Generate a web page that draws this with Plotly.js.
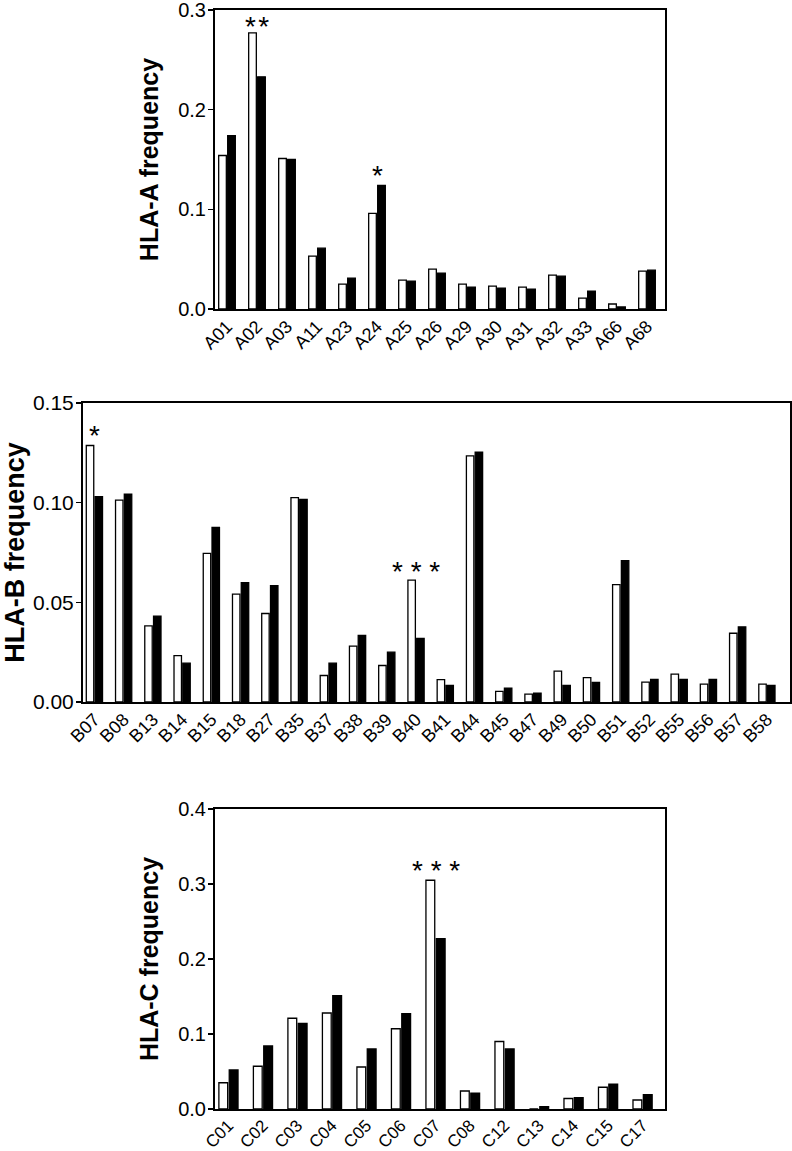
<!DOCTYPE html>
<html>
<head>
<meta charset="utf-8">
<script src="https://cdn.plot.ly/plotly-3.0.1.min.js"></script>
<style>html,body{margin:0;padding:0;background:#fff;}#chart{width:792px;height:1151px;}</style>
</head>
<body>
<div id="chart"></div>
<script>
// HLA-A
const catA = ["A01","A02","A03","A11","A23","A24","A25","A26","A29","A30","A31","A32","A33","A66","A68"];
const openA = [0.154,0.277,0.151,0.053,0.025,0.096,0.029,0.040,0.025,0.023,0.022,0.034,0.011,0.005,0.038];
const filledA = [0.174,0.233,0.150,0.061,0.031,0.124,0.028,0.036,0.022,0.021,0.020,0.033,0.018,0.002,0.039];
// HLA-B
const catB = ["B07","B08","B13","B14","B15","B18","B27","B35","B37","B38","B39","B40","B41","B44","B45","B47","B49","B50","B51","B52","B55","B56","B57","B58"];
const openB = [0.1287,0.1013,0.0382,0.0233,0.0746,0.0541,0.0444,0.1025,0.0133,0.0280,0.0183,0.0611,0.0112,0.1235,0.0053,0.0040,0.0155,0.0122,0.0589,0.0100,0.0140,0.0090,0.0345,0.0090];
const filledB = [0.1030,0.1043,0.0431,0.0195,0.0876,0.0599,0.0584,0.1016,0.0195,0.0334,0.0250,0.0319,0.0083,0.1253,0.0070,0.0045,0.0083,0.0098,0.0709,0.0113,0.0113,0.0113,0.0377,0.0083];
// HLA-C
const catC = ["C01","C02","C03","C04","C05","C06","C07","C08","C12","C13","C14","C15","C17"];
const openC = [0.035,0.057,0.121,0.128,0.056,0.107,0.305,0.024,0.090,0.000,0.014,0.029,0.012];
const filledC = [0.052,0.084,0.114,0.151,0.080,0.127,0.227,0.021,0.080,0.003,0.015,0.033,0.019];
// significance marks
const sigA = [["A02","*\u200A*",0.283],["A24","*",0.134]];
const sigB = [["B07","*",0.1335],["B40","* * *",0.0655]];
const sigC = [["C07","* * *",0.318]];

const FONT = "Liberation Sans, Arial, Helvetica, sans-serif";
const W = 792, H = 1151;

function bars(cats, open, filled, xa, ya) {
  return [
    {type:"bar", x:cats, y:open, xaxis:xa, yaxis:ya, showlegend:false,
     marker:{color:"#ffffff", line:{color:"#000000", width:1.3}}},
    {type:"bar", x:cats, y:filled, xaxis:xa, yaxis:ya, showlegend:false,
     marker:{color:"#000000", line:{color:"#000000", width:1.3}}}
  ];
}

const data = [].concat(
  bars(catA, openA, filledA, "x", "y"),
  bars(catB, openB, filledB, "x2", "y2"),
  bars(catC, openC, filledC, "x3", "y3")
);

function xax(domPx, range, ya, fsize) {
  return {domain:[domPx[0]/W, domPx[1]/W], anchor:ya, range:range, type:"category",
    showline:true, mirror:true, linecolor:"#000", linewidth:2, ticks:"", showgrid:false,
    zeroline:false, tickangle:-45, ticklabelstandoff:-2, ticklabeloverflow:"allow",
    tickfont:{family:FONT, size:fsize, color:"#000"}, fixedrange:true};
}
function yax(domPx, range, dtick, fmt, title, tsize, fsize, xa, standoff) {
  return {domain:[1-domPx[1]/H, 1-domPx[0]/H], anchor:xa, range:range, dtick:dtick, tick0:0,
    tickformat:fmt, showline:true, mirror:true, linecolor:"#000", linewidth:2,
    ticks:"outside", ticklen:5, tickwidth:1.5, tickcolor:"#000", showgrid:false, zeroline:false,
    ticklabeloverflow:"allow", ticklabelstandoff:-2,
    tickfont:{family:FONT, size:fsize, color:"#000"},
    title:{text:title, font:{family:FONT, size:tsize, color:"#000", weight:"bold"}, standoff:standoff},
    fixedrange:true};
}

const annotations = [];
function addSig(list, xa, ya) {
  list.forEach(s => annotations.push({x:s[0], y:s[2], xref:xa, yref:ya, text:s[1],
    showarrow:false, font:{family:FONT, size:28, color:"#000"}, yanchor:"middle"}));
}
addSig(sigA, "x", "y");
addSig(sigB, "x2", "y2");
addSig(sigC, "x3", "y3");

const layout = {
  width:W, height:H, margin:{l:0, r:0, t:0, b:0},
  paper_bgcolor:"#fff", plot_bgcolor:"#fff",
  barmode:"group", bargap:0.4, bargroupgap:0.15,
  font:{family:FONT, color:"#000"},
  xaxis: xax([215,665], [-0.4,14.6], "y", 18),
  yaxis: yax([10,309], [0,0.30001], 0.1, ".1f", "HLA-A frequency", 25, 20, "x", 12),
  xaxis2: xax([83,790], [-0.39,23.79], "y2", 18),
  yaxis2: yax([403,702], [0,0.15001], 0.05, ".2f", "HLA-B frequency", 27, 21, "x2", 16),
  xaxis3: xax([215,665], [-0.39,12.65], "y3", 17),
  yaxis3: yax([809,1109], [0,0.40001], 0.1, ".1f", "HLA-C frequency", 25, 20, "x3", 12),
  annotations: annotations
};

Plotly.newPlot("chart", data, layout, {displayModeBar:false, staticPlot:true});
</script>
</body>
</html>
